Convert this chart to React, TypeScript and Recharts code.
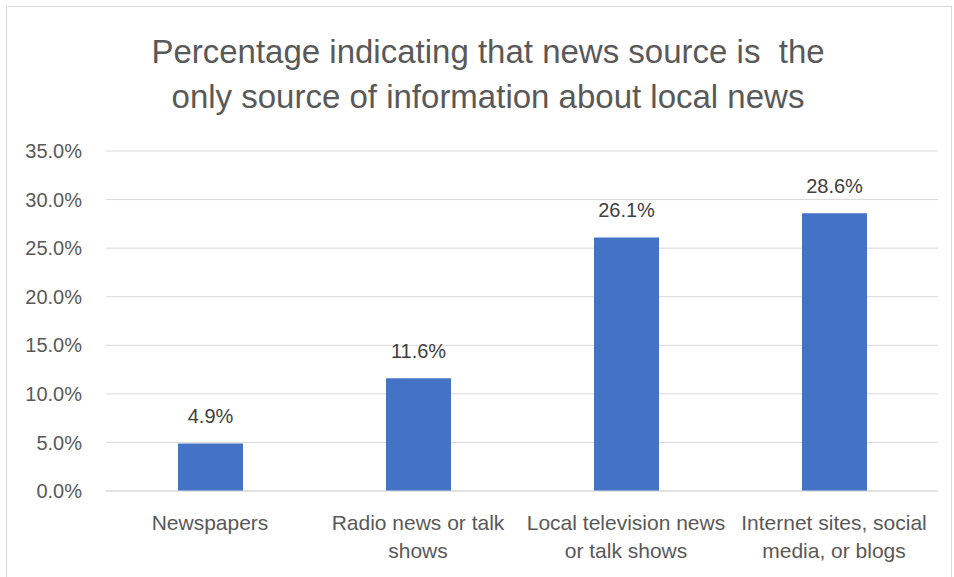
import { BarChart, Bar, XAxis, YAxis, CartesianGrid, LabelList } from "recharts";

const categories = [
  "Newspapers",
  "Radio news or talk\nshows",
  "Local television news\nor talk shows",
  "Internet sites, social\nmedia, or blogs",
];
const onlySource = [4.9, 11.6, 26.1, 28.6];
const yTicks = [0, 5, 10, 15, 20, 25, 30, 35];

const chartData = categories.map((name, i) => ({ name, value: onlySource[i] }));

const FONT = "'Liberation Sans', Arial, sans-serif";
const fmtPct = (v: number) => `${v.toFixed(1)}%`;

function CategoryTick({ x, y, payload }: any) {
  const lines = String(payload.value).split("\n");
  return (
    <text x={x} y={y} textAnchor="middle" fill="#595959" fontSize={21} fontFamily={FONT}>
      {lines.map((ln, i) => (
        <tspan key={i} x={x} dy={i === 0 ? 31 : 28}>
          {ln}
        </tspan>
      ))}
    </text>
  );
}

export default function App() {
  return (
    <div style={{ position: "absolute", left: 0, top: 0, width: 954, height: 577, background: "#fff" }}>
      <div
        style={{
          position: "absolute",
          left: 6,
          top: 6,
          width: 946,
          height: 600,
          border: "1px solid #d9d9d9",
          boxSizing: "border-box",
        }}
      />
      <div
        style={{
          position: "absolute",
          left: 0,
          top: 29,
          width: 976,
          textAlign: "center",
          fontFamily: FONT,
          fontSize: 33,
          lineHeight: "45px",
          color: "#595959",
        }}
      >
        Percentage indicating that news source is&nbsp; the
        <br />
        only source of information about local news
      </div>
      <div style={{ position: "absolute", left: 0, top: 0 }}>
        <BarChart
          width={954}
          height={577}
          data={chartData}
          margin={{ top: 151, right: 16, bottom: 0, left: 0 }}
          barSize={65}
        >
          <CartesianGrid vertical={false} stroke="#d9d9d9" />
          <XAxis
            dataKey="name"
            axisLine={{ stroke: "#d9d9d9" }}
            tickLine={false}
            tick={<CategoryTick />}
            interval={0}
            height={86}
          />
          <YAxis
            domain={[0, 35]}
            ticks={yTicks}
            tickFormatter={fmtPct}
            axisLine={false}
            tickLine={false}
            width={106}
            tickMargin={18}
            tick={{ fill: "#595959", fontSize: 20, fontFamily: FONT }}
          />
          <Bar dataKey="value" fill="#4472c4" isAnimationActive={false}>
            <LabelList
              dataKey="value"
              position="top"
              offset={20}
              formatter={(v: any) => fmtPct(Number(v))}
              fill="#404040"
              fontSize={20}
              fontFamily={FONT}
            />
          </Bar>
        </BarChart>
      </div>
    </div>
  );
}
